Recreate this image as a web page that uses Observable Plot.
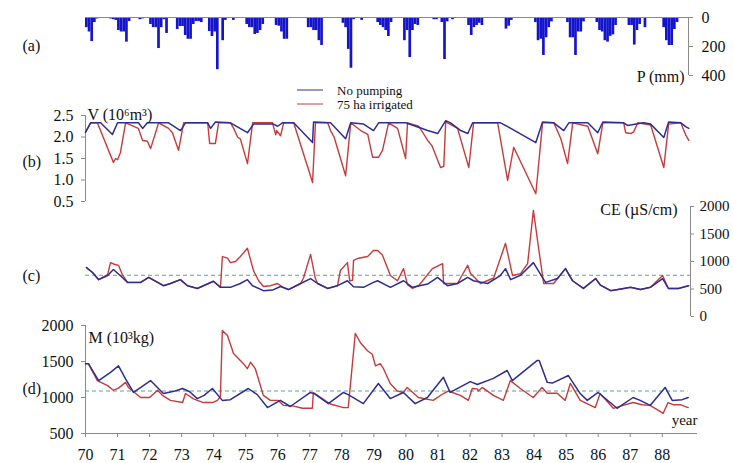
<!DOCTYPE html>
<html><head><meta charset="utf-8">
<script src="https://cdn.jsdelivr.net/npm/d3@7"></script>
<script src="https://cdn.jsdelivr.net/npm/@observablehq/plot@0.6"></script>
<style>
body{margin:0;background:#fff;}
#chart{position:relative;width:733px;height:463px;font-family:"Liberation Serif","Times New Roman","DejaVu Serif",serif;overflow:hidden;}
#chart svg{position:absolute;left:0;overflow:visible;}
#chart svg text{font-family:"Liberation Serif","Times New Roman","DejaVu Serif",serif !important;}
</style></head><body><div id="chart"></div>
<script>
// ---------- data ----------
const yearTicks = d3.range(70, 89);
// Monthly precipitation P (mm), Jan 1970 .. Dec 1988 (one row per year)
const precipMonthly = [
  70,100,166,35,10,0,0,0,0,10,15,20,      // 70
  90,100,100,170,28,0,0,0,15,10,0,0,      // 71
  48,70,70,214,70,15,110,0,0,0,83,62,     // 72
  62,124,150,150,48,28,28,35,0,0,97,131,  // 73
  100,360,0,160,20,0,0,20,0,0,0,0,        // 74
  48,70,70,117,110,90,48,0,0,0,0,55,      // 75
  60,100,150,150,0,0,0,0,0,0,0,70,        // 76
  70,90,90,160,193,0,0,0,0,0,0,0,         // 77
  40,70,220,350,15,0,0,20,0,0,0,0,        // 78
  0,35,55,70,90,131,35,0,0,0,0,160,       // 79
  90,276,90,48,55,0,0,0,0,0,15,15,        // 80
  0,35,290,30,0,15,0,0,0,0,0,55,          // 81
  124,70,55,40,55,0,0,0,0,0,0,0,          // 82
  0,80,60,20,0,0,0,0,0,0,0,0,             // 83
  35,160,150,262,140,70,30,0,0,0,0,0,     // 84
  35,140,140,262,100,100,30,0,0,0,0,35,   // 85
  90,100,160,170,130,120,55,0,0,0,0,55,   // 86
  55,190,90,48,0,70,0,0,0,0,0,0,          // 87
  70,160,193,193,83,35,0,0,0,0           // 88
];
// V (10^6 m3): [year, value]
const volNoPumping = [[70.00,2.11],[70.16,2.33],[70.47,2.33],[70.84,2.06],[71.00,2.33],[71.65,2.33],[71.78,2.20],[71.93,2.33],[72.59,2.33],[72.96,2.15],[73.12,2.33],[73.81,2.33],[73.90,2.20],[74.05,2.35],[74.52,2.33],[75.05,2.10],[75.24,2.30],[75.86,2.30],[75.99,2.25],[76.14,2.33],[76.49,2.33],[77.08,1.87],[77.11,2.35],[77.64,2.33],[78.11,1.96],[78.27,2.33],[78.67,2.30],[78.98,2.15],[79.14,2.33],[79.98,2.33],[80.67,2.15],[80.98,2.08],[81.23,2.38],[81.38,2.33],[81.70,2.15],[81.92,2.08],[82.07,2.33],[82.94,2.33],[83.26,2.20],[84.04,1.87],[84.25,2.35],[84.60,2.33],[84.91,2.15],[85.07,2.33],[85.66,2.33],[85.97,2.10],[86.13,2.35],[86.78,2.33],[86.90,2.27],[87.40,2.33],[87.62,2.30],[88.03,1.99],[88.18,2.35],[88.56,2.33],[88.71,2.24],[88.81,2.20]];
const volIrrigated = [[70.00,2.11],[70.16,2.33],[70.37,2.33],[70.87,1.41],[70.94,1.50],[71.00,1.47],[71.09,1.64],[71.25,2.33],[71.65,2.20],[71.78,1.92],[71.93,1.90],[72.03,1.73],[72.28,2.33],[72.59,2.20],[72.71,2.10],[72.90,1.69],[73.06,2.33],[73.81,2.33],[73.87,1.85],[74.05,1.85],[74.15,2.33],[74.52,2.33],[74.62,2.20],[74.74,2.00],[74.83,1.95],[75.05,1.38],[75.21,2.33],[75.83,2.33],[75.93,2.05],[75.96,2.15],[76.08,2.03],[76.18,2.33],[76.49,2.33],[77.08,0.94],[77.17,2.33],[77.55,2.33],[77.64,2.15],[77.75,2.00],[78.11,1.10],[78.27,2.33],[78.58,2.15],[78.80,2.06],[78.95,1.53],[79.14,1.53],[79.26,1.69],[79.45,2.33],[79.73,2.20],[79.98,1.50],[80.04,2.33],[80.39,2.25],[80.67,1.92],[80.80,1.80],[81.07,1.29],[81.17,1.32],[81.23,2.35],[81.60,2.20],[81.95,1.29],[82.10,2.33],[82.85,2.33],[83.16,0.99],[83.35,1.76],[84.04,0.68],[84.25,2.33],[84.60,2.33],[84.82,1.96],[85.03,1.38],[85.19,2.33],[85.66,2.25],[85.97,1.61],[86.13,2.33],[86.78,2.33],[86.84,2.10],[87.00,2.08],[87.09,2.12],[87.22,2.33],[87.62,2.28],[88.03,1.29],[88.18,2.30],[88.56,2.33],[88.71,2.05],[88.81,1.92]];
// CE (uS/cm)
const ceNoPumping = [[70.03,890],[70.22,800],[70.41,670],[70.69,745],[70.87,855],[71.15,710],[71.31,620],[71.72,620],[71.97,710],[72.25,620],[72.43,560],[72.65,600],[72.96,670],[73.18,560],[73.49,510],[73.68,560],[73.99,640],[74.21,530],[74.52,530],[74.83,600],[75.05,670],[75.21,560],[75.55,470],[75.83,480],[76.08,545],[76.33,490],[76.71,600],[77.02,690],[77.24,600],[77.55,510],[77.86,560],[78.17,650],[78.36,540],[78.67,530],[78.98,620],[79.11,650],[79.51,530],[79.92,650],[80.20,530],[80.67,590],[80.98,710],[81.29,560],[81.60,600],[81.92,710],[82.10,650],[82.54,600],[82.94,745],[83.10,870],[83.26,670],[83.57,750],[83.97,980],[84.25,710],[84.35,620],[84.72,690],[84.97,870],[85.19,650],[85.53,510],[85.91,690],[86.06,570],[86.38,470],[86.70,500],[87.00,530],[87.31,490],[87.62,530],[88.00,690],[88.18,510],[88.50,510],[88.81,560]];
const ceIrrigated = [[70.03,890],[70.22,800],[70.41,670],[70.69,760],[70.78,980],[70.90,950],[71.03,930],[71.15,760],[71.31,620],[71.72,620],[71.97,710],[72.25,620],[72.43,560],[72.65,600],[72.96,670],[73.18,560],[73.49,510],[73.68,560],[73.99,640],[74.21,530],[74.27,1090],[74.43,1060],[74.52,980],[74.68,1000],[74.83,1090],[75.05,1240],[75.24,835],[75.40,650],[75.55,545],[75.77,560],[75.99,600],[76.14,540],[76.33,490],[76.71,600],[76.80,700],[77.02,1130],[77.17,690],[77.24,600],[77.55,510],[77.86,560],[77.95,835],[78.17,980],[78.24,650],[78.33,660],[78.36,1020],[78.52,1060],[78.80,1090],[78.98,1200],[79.11,1200],[79.26,1120],[79.51,745],[79.73,650],[79.92,870],[80.04,580],[80.20,510],[80.39,560],[80.82,870],[81.14,960],[81.17,600],[81.60,600],[81.92,930],[82.01,780],[82.32,600],[82.73,700],[83.10,1330],[83.32,745],[83.57,780],[83.79,960],[83.97,1930],[84.13,1250],[84.29,600],[84.60,600],[84.97,870],[85.19,650],[85.53,510],[85.91,690],[86.06,570],[86.38,470],[86.70,500],[87.00,530],[87.31,490],[87.62,530],[88.00,745],[88.18,510],[88.50,510],[88.81,560]];
// M (10^3 kg)
const massNoPumping = [[70.00,1470],[70.09,1470],[70.41,1235],[70.78,1350],[71.03,1440],[71.25,1260],[71.50,1070],[72.03,1235],[72.43,1055],[72.80,1090],[73.03,1125],[73.25,1080],[73.49,985],[73.70,1030],[73.96,1125],[74.27,960],[74.52,970],[75.08,1125],[75.36,1040],[75.68,860],[76.08,960],[76.39,875],[77.02,1070],[77.15,1050],[77.58,915],[78.05,1070],[78.20,1040],[78.67,915],[79.14,1195],[79.51,985],[79.92,1070],[80.29,915],[80.67,1000],[81.17,1280],[81.38,1070],[82.01,1220],[82.23,1180],[82.73,1265],[83.16,1375],[83.32,1235],[84.10,1515],[84.16,1515],[84.41,1210],[84.57,1200],[85.07,1305],[85.44,1055],[85.66,960],[86.00,1070],[86.59,850],[87.09,1000],[87.31,960],[87.62,890],[88.09,1140],[88.31,960],[88.62,970],[88.81,1000]];
const massIrrigated = [[70.00,1470],[70.09,1470],[70.37,1235],[70.69,1165],[70.87,1100],[71.03,1130],[71.25,1210],[71.34,1140],[71.72,1000],[72.00,1000],[72.25,1100],[72.40,1030],[72.65,960],[73.03,930],[73.12,1055],[73.37,980],[73.68,930],[73.96,930],[74.12,960],[74.21,1015],[74.27,1930],[74.43,1860],[74.62,1610],[74.93,1470],[75.05,1400],[75.15,1490],[75.30,1400],[75.55,1030],[75.77,960],[76.02,960],[76.18,890],[76.50,880],[76.77,850],[77.08,850],[77.11,1070],[77.24,1030],[77.64,910],[78.05,860],[78.20,860],[78.42,1890],[78.58,1760],[78.80,1650],[78.95,1600],[79.05,1440],[79.20,1470],[79.30,1400],[79.51,1195],[79.73,1090],[79.92,1070],[80.04,1140],[80.39,1000],[80.85,960],[81.17,1055],[81.32,1090],[81.70,1030],[81.95,960],[82.07,1125],[82.23,1120],[82.26,1090],[82.38,1140],[82.73,1030],[83.04,960],[83.26,1235],[83.57,1125],[83.97,1000],[84.25,1140],[84.41,1060],[84.72,1060],[84.97,960],[85.13,1195],[85.44,960],[85.91,860],[86.06,1055],[86.47,850],[86.78,890],[87.09,930],[87.37,900],[87.62,890],[88.03,780],[88.18,930],[88.34,900],[88.56,900],[88.81,860]];
const ceThreshold = 750;
const massThreshold = 1090;
const seriesNames = ["No pumping", "75 ha irrigated"];

// ---------- style ----------
const BLUE = "#2e2e92", RED = "#c63b3b", BAR = "#1414cc", AXIS = "#8a8a8a", DASH = "#5aa5a0";
const FONT = '"Liberation Serif","Times New Roman","DejaVu Serif",serif';
const base = {width: 733, marginLeft: 85, style: {fontFamily: FONT, fontSize: "16px", color: "#111", background: "transparent", overflow: "visible"}};
const X = d => d[0], Y = d => d[1];
const intFmt = d3.format("d");
const precip = precipMonthly.map((p, i) => ({t: 70 + i / 12, t2: 70 + (i + 1) / 12, p}));
const chart = document.getElementById("chart");
function place(svg, top) { svg.style.top = top + "px"; chart.appendChild(svg); }

// (a) precipitation
place(Plot.plot({...base, height: 90, marginTop: 17, marginBottom: 15, marginRight: 45,
  x: {domain: [70, 88.8], axis: null},
  y: {domain: [0, 400], reverse: true, axis: null},
  marks: [
    Plot.rect(precip, {x1: "t", x2: "t2", y1: 0, y2: "p", fill: BAR}),
    Plot.ruleY([0], {stroke: AXIS}),
    Plot.ruleX([88.8], {y1: 0, y2: 400, stroke: AXIS}),
    Plot.axisY([0, 200, 400], {anchor: "right", tickSize: 4, tickPadding: 9, tickFormat: intFmt, stroke: AXIS, fill: "#111", label: null}),
    Plot.text(["P (mm)"], {frameAnchor: "bottom-right", dx: -4, dy: 6, textAnchor: "end", fontSize: 16}),
    Plot.text(["(a)"], {frameAnchor: "top-left", dx: -63, dy: 22, fontSize: 16})
  ]}), 0);

// (b) volume
place(Plot.plot({...base, height: 140, marginTop: 35, marginBottom: 19, marginRight: 45,
  x: {domain: [70, 88.8], axis: null},
  y: {domain: [0.5, 2.5], axis: null},
  marks: [
    Plot.ruleX([70], {y1: 0.5, y2: 2.5, stroke: AXIS}),
    Plot.axisY([0.5, 1, 1.5, 2, 2.5], {anchor: "left", tickSize: 4, tickPadding: 8, tickFormat: d3.format(".1f"), stroke: AXIS, fill: "#111", label: null}),
    Plot.line(volIrrigated, {x: X, y: Y, stroke: RED, strokeWidth: 1.4}),
    Plot.line(volNoPumping, {x: X, y: Y, stroke: BLUE, strokeWidth: 1.5}),
    Plot.text(["V (10⁶m³)"], {frameAnchor: "top-left", dx: 2, dy: -7, textAnchor: "start", fontSize: 16}),
    Plot.text(["(b)"], {frameAnchor: "top-left", dx: -63, dy: 40, fontSize: 16})
  ]}), 80);

// legend
const leg = d3.create("svg").attr("width", 200).attr("height", 34).style("left", "290px").style("top", "80px");
seriesNames.forEach((name, i) => {
  const y = 10 + i * 14;
  leg.append("line").attr("x1", 7).attr("x2", 33).attr("y1", y).attr("y2", y).attr("stroke", i ? RED : BLUE).attr("stroke-width", 1);
  leg.append("text").attr("x", 47).attr("y", y).attr("dy", "0.35em").attr("font-size", 13).attr("fill", "#111").text(name);
});
chart.appendChild(leg.node());

// (c) electrical conductivity
place(Plot.plot({...base, height: 135, marginTop: 16, marginBottom: 9, marginRight: 43,
  x: {domain: [70, 88.87], axis: null},
  y: {domain: [0, 2000], axis: null},
  marks: [
    Plot.ruleX([88.87], {y1: 0, y2: 2000, stroke: AXIS}),
    Plot.axisY([0, 500, 1000, 1500, 2000], {anchor: "right", tickSize: 3, tickPadding: 6, tickFormat: intFmt, stroke: AXIS, fill: "#111", label: null, fontSize: 15}),
    Plot.ruleY([ceThreshold], {stroke: DASH, strokeDasharray: "4,3", strokeWidth: 1}),
    Plot.line(ceIrrigated, {x: X, y: Y, stroke: RED, strokeWidth: 1.4}),
    Plot.line(ceNoPumping, {x: X, y: Y, stroke: BLUE, strokeWidth: 1.5}),
    Plot.text(["CE (µS/cm)"], {frameAnchor: "top-right", dx: -13, dy: -3, textAnchor: "end", fontSize: 16}),
    Plot.text(["(c)"], {frameAnchor: "top-left", dx: -63, dy: 63, fontSize: 16})
  ]}), 190);

// (d) salt mass
place(Plot.plot({...base, height: 148, marginTop: 10, marginBottom: 30, marginRight: 36,
  x: {domain: [70, 89.1]},
  y: {domain: [500, 2000], axis: null},
  marks: [
    Plot.ruleX([70], {y1: 500, y2: 2000, stroke: AXIS}),
    Plot.ruleY([500], {stroke: AXIS}),
    Plot.axisY([500, 1000, 1500, 2000], {anchor: "left", tickSize: 4, tickPadding: 8, tickFormat: intFmt, stroke: AXIS, fill: "#111", label: null}),
    Plot.axisX(yearTicks, {anchor: "bottom", tickSize: 4, tickPadding: 11, stroke: AXIS, fill: "#111", tickFormat: d => String(d), label: null}),
    Plot.ruleY([massThreshold], {x1: 70, x2: 88.8, stroke: DASH, strokeDasharray: "4,3", strokeWidth: 1}),
    Plot.line(massIrrigated, {x: X, y: Y, stroke: RED, strokeWidth: 1.4}),
    Plot.line(massNoPumping, {x: X, y: Y, stroke: BLUE, strokeWidth: 1.5}),
    Plot.text(["M (10³kg)"], {frameAnchor: "top-left", dx: 3, dy: 6, textAnchor: "start", fontSize: 16}),
    Plot.text(["year"], {frameAnchor: "bottom-right", dx: 0, dy: -9, textAnchor: "end", fontSize: 15}),
    Plot.text(["(d)"], {frameAnchor: "top-left", dx: -63, dy: 57, fontSize: 16})
  ]}), 315);
</script>
</body></html>
